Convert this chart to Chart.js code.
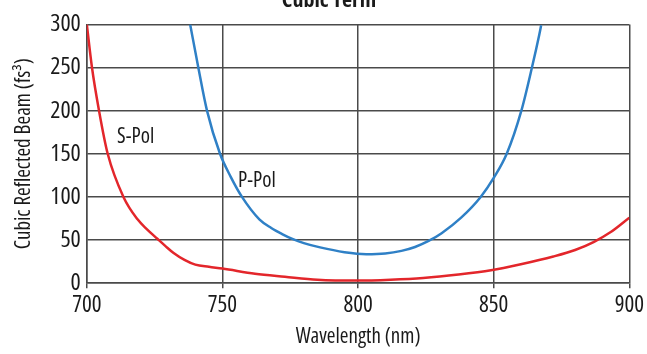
<!DOCTYPE html>
<html>
<head>
<meta charset="utf-8">
<script src="https://cdn.jsdelivr.net/npm/chart.js@4"></script>
<style>
  html, body { margin: 0; padding: 0; background: #fff; overflow: hidden; }
  #wrap { position: absolute; left: 0; top: -20px; width: 647px; height: 374px; }
</style>
</head>
<body>
<div id="wrap"><canvas id="cubicChart"></canvas></div>
<script>
// wavelength (nm) / cubic term (fs^3)
const sPolNm  = [700, 701.9, 704.5, 707.7, 713.5, 718.7, 722, 726, 729, 732, 736, 740, 745, 750, 762, 773, 785, 800, 812, 824, 837, 849, 860, 872, 880, 887, 893, 900];
const sPolVal = [300, 250, 200, 150, 100, 74, 63, 51.5, 43, 35, 27, 21.5, 19, 17, 11, 7.5, 4, 3, 4, 6, 10, 15, 22, 31, 38.5, 48, 59, 76];

const pPolNm  = [738.1, 741.1, 744.3, 749.1, 753.1, 757.2, 763.6, 768, 772, 776, 780, 786, 795, 803, 810, 816, 821, 826, 830.8, 838, 845.2, 850, 854.8, 860.2, 864.1, 866.8, 867.5];
const pPolVal = [300, 250, 200, 150, 123, 100, 74, 64, 57, 51, 46.5, 41.5, 36, 33.7, 34.5, 37.5, 42, 49, 58, 76, 100, 122, 150, 200, 250, 288, 299];

const xTicks = [700, 750, 800, 850, 900];
const yTicks = [0, 50, 100, 150, 200, 250, 300];

// Chart.js puts weight in front of size in the font string, so "condensed" rides along there
const FONT = "'Open Sans', 'DejaVu Sans Condensed', sans-serif";
const GRID = '#4a4a4a';
const INK = '#1a1a1a';

function toPoints(xs, ys) {
    return xs.map((x, i) => ({x: x, y: ys[i]}));
}

// curve names written next to the lines
const curveLabels = {
    id: 'curveLabels',
    afterDatasetsDraw(chart) {
        const ctx = chart.ctx;
        const xs = chart.scales.x, ys = chart.scales.y;
        const marks = [
            {text: 'S-Pol', x: 718, y: 170},
            {text: 'P-Pol', x: 762.7, y: 118}
        ];
        ctx.save();
        ctx.font = "condensed 21px " + FONT;
        ctx.fillStyle = INK;
        ctx.textAlign = 'center';
        ctx.textBaseline = 'middle';
        marks.forEach(m => ctx.fillText(m.text, xs.getPixelForValue(m.x), ys.getPixelForValue(m.y)));
        ctx.restore();
    }
};

new Chart(document.getElementById('cubicChart'), {
    type: 'scatter',
    data: {
        datasets: [
            {
                label: 'S-Pol',
                data: toPoints(sPolNm, sPolVal),
                borderColor: '#e3262b',
                borderWidth: 2.5,
                showLine: true,
                pointRadius: 0,
                cubicInterpolationMode: 'monotone'
            },
            {
                label: 'P-Pol',
                data: toPoints(pPolNm, pPolVal),
                borderColor: '#2f80c6',
                borderWidth: 2.5,
                showLine: true,
                pointRadius: 0,
                cubicInterpolationMode: 'monotone'
            }
        ]
    },
    options: {
        responsive: true,
        maintainAspectRatio: false,
        animation: false,
        layout: { padding: { left: 11, right: 0, bottom: 4 } },
        plugins: {
            legend: { display: false },
            tooltip: { enabled: false },
            title: {
                display: true,
                text: 'Cubic Term',
                color: INK,
                font: { family: FONT, size: 22, weight: 'bold condensed' },
                padding: { top: 8, bottom: 10 }
            }
        },
        scales: {
            x: {
                type: 'linear',
                min: 700,
                max: 900,
                afterBuildTicks: axis => { axis.ticks = xTicks.map(v => ({value: v})); },
                grid: { color: GRID, lineWidth: 1.5, tickLength: 5 },
                border: { color: GRID, width: 1.5 },
                ticks: { color: INK, padding: 3, font: { family: FONT, size: 23, weight: 'condensed' } },
                title: {
                    display: true,
                    text: 'Wavelength (nm)',
                    color: INK,
                    font: { family: FONT, size: 21, weight: 'condensed' },
                    padding: { top: 3, bottom: 0 }
                }
            },
            y: {
                min: 0,
                max: 300,
                afterBuildTicks: axis => { axis.ticks = yTicks.map(v => ({value: v})); },
                grid: { color: GRID, lineWidth: 1.5, drawTicks: false },
                border: { color: GRID, width: 1.5 },
                ticks: { color: INK, padding: 6, font: { family: FONT, size: 24, weight: 'condensed' } },
                title: {
                    display: true,
                    text: 'Cubic Reflected Beam (fs\u00B3)',
                    color: INK,
                    font: { family: FONT, size: 21, weight: 'condensed' },
                    padding: { top: 0, bottom: 8 }
                }
            }
        }
    },
    plugins: [curveLabels]
});
</script>
</body>
</html>
